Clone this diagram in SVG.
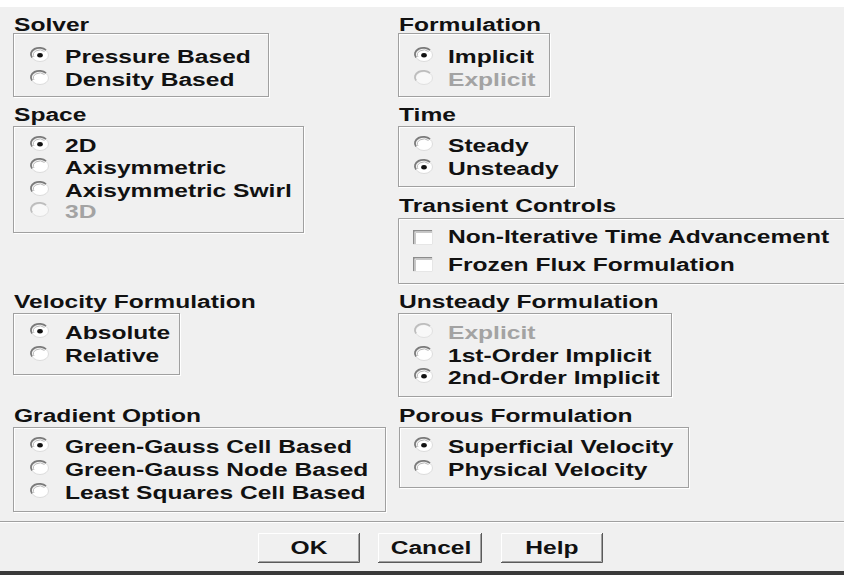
<svg xmlns="http://www.w3.org/2000/svg" xmlns:xlink="http://www.w3.org/1999/xlink" width="844" height="575" viewBox="0 0 844 575">
<style>
.t{font-family:"Liberation Sans",Arial,sans-serif;font-weight:bold;font-size:18.5px;fill:#111}
.g{fill:#a3a3a3}
.bx{fill:none;stroke:#a0a0a0;stroke-width:1}
.bw{fill:none;stroke:#ffffff;stroke-width:1}
.bt{font-family:"Liberation Sans",Arial,sans-serif;font-weight:bold;font-size:18.5px;fill:#111}
</style>
<defs>
<g id="radio">
<ellipse cx="0" cy="0" rx="8.5" ry="6.5" fill="#ffffff" stroke="#dcdcdc" stroke-width="1"/>
<path d="M -8,2.5 A 8.5 6.5 0 0 1 6,-4.8" fill="none" stroke="#7a7a7a" stroke-width="1.8"/>
<path d="M -6,2 A 6.5 4.8 0 0 1 4.5,-3.5" fill="none" stroke="#b8b8b8" stroke-width="1"/>
</g>
<g id="radioOn">
<use xlink:href="#radio"/>
<ellipse cx="0" cy="0.3" rx="2.8" ry="2.2" fill="#111"/>
</g>
<g id="radioG">
<ellipse cx="0" cy="0" rx="8.5" ry="6.5" fill="#f8f8f8" stroke="#e0e0e0" stroke-width="1"/>
<path d="M -8,2.5 A 8.5 6.5 0 0 1 6,-4.8" fill="none" stroke="#bdbdbd" stroke-width="1.8"/>
</g>
<g id="check">
<rect x="0" y="0" width="20" height="15" fill="#ffffff"/>
<path d="M 0.75,15 V 0.75 H 20" fill="none" stroke="#8c8c8c" stroke-width="1.5"/>
<path d="M 2.5,14 V 2.5 H 19" fill="none" stroke="#c8c8c8" stroke-width="1"/>
<path d="M 0,14.5 H 19.5 V 0" fill="none" stroke="#e6e6e6" stroke-width="1"/>
</g>
</defs>

<rect x="0" y="0" width="844" height="575" fill="#f0f0f0"/>
<rect x="0" y="0" width="844" height="7" fill="#ffffff"/>

<g id="solver">
<text class="t" transform="translate(14,31) scale(1.33,1)">Solver</text>
<rect class="bw" x="14.5" y="34.5" width="255" height="63"/>
<rect class="bx" x="13.5" y="33.5" width="255" height="63"/>
<use xlink:href="#radioOn" x="40" y="55"/>
<text class="t" transform="translate(65,63) scale(1.33,1)">Pressure Based</text>
<use xlink:href="#radio" x="40" y="78"/>
<text class="t" transform="translate(65,86) scale(1.33,1)">Density Based</text>
</g>

<g id="space">
<text class="t" transform="translate(14,121) scale(1.33,1)">Space</text>
<rect class="bw" x="14.5" y="127.5" width="290" height="106"/>
<rect class="bx" x="13.5" y="126.5" width="290" height="106"/>
<use xlink:href="#radioOn" x="40" y="144"/>
<text class="t" transform="translate(65,152) scale(1.33,1)">2D</text>
<use xlink:href="#radio" x="40" y="166"/>
<text class="t" transform="translate(65,174) scale(1.33,1)">Axisymmetric</text>
<use xlink:href="#radio" x="40" y="189"/>
<text class="t" transform="translate(65,197) scale(1.33,1)">Axisymmetric Swirl</text>
<use xlink:href="#radioG" x="40" y="210"/>
<text class="t g" transform="translate(65,218) scale(1.33,1)">3D</text>
</g>

<g id="velocity">
<text class="t" transform="translate(14,308) scale(1.33,1)">Velocity Formulation</text>
<rect class="bw" x="14.5" y="314.5" width="166" height="61"/>
<rect class="bx" x="13.5" y="313.5" width="166" height="61"/>
<use xlink:href="#radioOn" x="40" y="331"/>
<text class="t" transform="translate(65,339) scale(1.33,1)">Absolute</text>
<use xlink:href="#radio" x="40" y="354"/>
<text class="t" transform="translate(65,362) scale(1.33,1)">Relative</text>
</g>

<g id="gradient">
<text class="t" transform="translate(14,422) scale(1.33,1)">Gradient Option</text>
<rect class="bw" x="14.5" y="428.5" width="372" height="84"/>
<rect class="bx" x="13.5" y="427.5" width="372" height="84"/>
<use xlink:href="#radioOn" x="40" y="445"/>
<text class="t" transform="translate(65,453) scale(1.33,1)">Green-Gauss Cell Based</text>
<use xlink:href="#radio" x="40" y="468"/>
<text class="t" transform="translate(65,476) scale(1.33,1)">Green-Gauss Node Based</text>
<use xlink:href="#radio" x="40" y="491"/>
<text class="t" transform="translate(65,499) scale(1.33,1)">Least Squares Cell Based</text>
</g>

<g id="formulation">
<text class="t" transform="translate(399,31) scale(1.33,1)">Formulation</text>
<rect class="bw" x="399.5" y="34.5" width="151" height="63"/>
<rect class="bx" x="398.5" y="33.5" width="151" height="63"/>
<use xlink:href="#radioOn" x="424" y="55"/>
<text class="t" transform="translate(448,63) scale(1.33,1)">Implicit</text>
<use xlink:href="#radioG" x="424" y="78"/>
<text class="t g" transform="translate(448,86) scale(1.33,1)">Explicit</text>
</g>

<g id="time">
<text class="t" transform="translate(399,121) scale(1.33,1)">Time</text>
<rect class="bw" x="399.5" y="127.5" width="176" height="60"/>
<rect class="bx" x="398.5" y="126.5" width="176" height="60"/>
<use xlink:href="#radio" x="424" y="144"/>
<text class="t" transform="translate(448,152) scale(1.33,1)">Steady</text>
<use xlink:href="#radioOn" x="424" y="167"/>
<text class="t" transform="translate(448,175) scale(1.33,1)">Unsteady</text>
</g>

<g id="transient">
<text class="t" transform="translate(399,212) scale(1.33,1)">Transient Controls</text>
<path class="bw" d="M 844,219.5 H 399.5 V 284.5 H 844"/>
<path class="bx" d="M 844,218.5 H 398.5 V 283.5 H 844"/>
<use xlink:href="#check" x="413" y="230"/>
<text class="t" transform="translate(448,243) scale(1.33,1)">Non-Iterative Time Advancement</text>
<use xlink:href="#check" x="413" y="257"/>
<text class="t" transform="translate(448,271) scale(1.33,1)">Frozen Flux Formulation</text>
</g>

<g id="unsteady">
<text class="t" transform="translate(399,308) scale(1.33,1)">Unsteady Formulation</text>
<rect class="bw" x="399.5" y="314.5" width="273" height="83"/>
<rect class="bx" x="398.5" y="313.5" width="273" height="83"/>
<use xlink:href="#radioG" x="424" y="331"/>
<text class="t g" transform="translate(448,339) scale(1.33,1)">Explicit</text>
<use xlink:href="#radio" x="424" y="354"/>
<text class="t" transform="translate(448,362) scale(1.33,1)">1st-Order Implicit</text>
<use xlink:href="#radioOn" x="424" y="376"/>
<text class="t" transform="translate(448,384) scale(1.33,1)">2nd-Order Implicit</text>
</g>

<g id="porous">
<text class="t" transform="translate(399,422) scale(1.33,1)">Porous Formulation</text>
<rect class="bw" x="400.5" y="428.5" width="289" height="60"/>
<rect class="bx" x="399.5" y="427.5" width="289" height="60"/>
<use xlink:href="#radioOn" x="424" y="445"/>
<text class="t" transform="translate(448,453) scale(1.33,1)">Superficial Velocity</text>
<use xlink:href="#radio" x="424" y="468"/>
<text class="t" transform="translate(448,476) scale(1.33,1)">Physical Velocity</text>
</g>

<g id="separator">
<line x1="0" y1="521.5" x2="844" y2="521.5" stroke="#a0a0a0"/>
<line x1="0" y1="522.5" x2="844" y2="522.5" stroke="#ffffff"/>
</g>

<g id="btn-ok">
<rect x="258" y="533" width="102" height="30" fill="#f0f0f0"/>
<path d="M 258.5,563 V 533.5 H 360" fill="none" stroke="#ffffff"/>
<path d="M 258,562.5 H 359.5 V 533" fill="none" stroke="#5a5a5a"/>
<path d="M 259,561.5 H 358.5 V 534" fill="none" stroke="#a0a0a0"/>
<text class="bt" text-anchor="middle" transform="translate(309,554) scale(1.33,1)">OK</text>
</g>
<g id="btn-cancel">
<rect x="378" y="533" width="104" height="30" fill="#f0f0f0"/>
<path d="M 378.5,563 V 533.5 H 482" fill="none" stroke="#ffffff"/>
<path d="M 378,562.5 H 481.5 V 533" fill="none" stroke="#5a5a5a"/>
<path d="M 379,561.5 H 480.5 V 534" fill="none" stroke="#a0a0a0"/>
<text class="bt" text-anchor="middle" transform="translate(431,554) scale(1.33,1)">Cancel</text>
</g>
<g id="btn-help">
<rect x="501" y="533" width="102" height="30" fill="#f0f0f0"/>
<path d="M 501.5,563 V 533.5 H 603" fill="none" stroke="#ffffff"/>
<path d="M 501,562.5 H 602.5 V 533" fill="none" stroke="#5a5a5a"/>
<path d="M 502,561.5 H 601.5 V 534" fill="none" stroke="#a0a0a0"/>
<text class="bt" text-anchor="middle" transform="translate(552,554) scale(1.33,1)">Help</text>
</g>

<rect x="0" y="571" width="844" height="4" fill="#3a3a3a"/>
</svg>
